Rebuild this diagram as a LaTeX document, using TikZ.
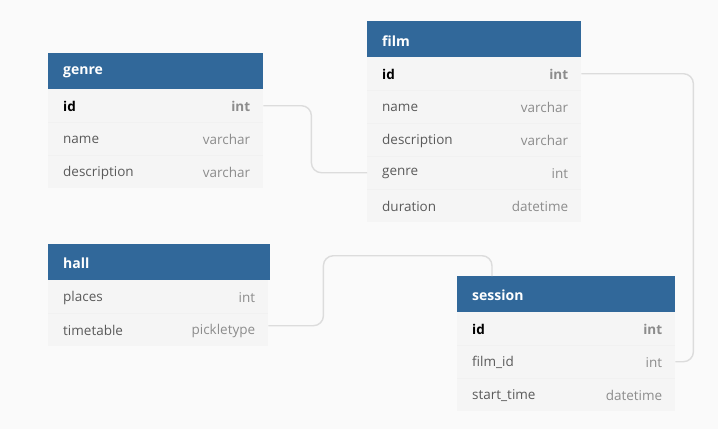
\documentclass[tikz,border=0pt]{standalone}
\usepackage{fontspec}
\setmainfont{Open Sans}
\begin{document}
\begin{tikzpicture}[x=1pt,y=-1pt,
  hdr/.style={fill=hdrblue, draw=none, anchor=north west, minimum height=36pt, inner sep=0pt},
  rowbox/.style={fill=rowgray, draw=none, anchor=north west, minimum height=33pt, inner sep=0pt},
  htext/.style={anchor=west, yshift=-1.5pt, text=white, font=\fontsize{14}{16}\selectfont\bfseries, inner sep=0pt},
  fname/.style={anchor=west, yshift=-1pt, text=namegray, font=\fontsize{13.5}{16}\selectfont, inner sep=0pt},
  fkey/.style={anchor=west, yshift=-1pt, text=black, font=\fontsize{13.5}{16}\selectfont\bfseries, inner sep=0pt},
  ftype/.style={anchor=east, yshift=-1pt, text=typegray, font=\fontsize{13.5}{16}\selectfont, inner sep=0pt},
  fkeytype/.style={anchor=east, yshift=-1pt, text=typegray, font=\fontsize{13.5}{16}\selectfont\bfseries, inner sep=0pt},
  sep/.style={draw=sepgray, line width=0.6pt},
  conn/.style={draw=conngray, line width=1.4pt, rounded corners=10pt}]
\definecolor{hdrblue}{HTML}{31689A}
\definecolor{rowgray}{HTML}{F5F5F5}
\definecolor{bggray}{HTML}{FAFAFA}
\definecolor{namegray}{HTML}{5A5A5A}
\definecolor{typegray}{HTML}{8C8C8C}
\definecolor{sepgray}{HTML}{F1F1F1}
\definecolor{conngray}{HTML}{DCDCDC}
\useasboundingbox (0,0) rectangle (718,429);
\fill[bggray] (0,0) rectangle (718,429);

% ---------- genre ----------
\node[hdr, minimum width=215pt] (g-head) at (48,53) {};
\node[htext] at ([xshift=15pt]g-head.west) {genre};
\node[rowbox, minimum width=215pt] (g-id) at (48,89) {};
\node[rowbox, minimum width=215pt] (g-name) at (48,122) {};
\node[rowbox, minimum width=215pt] (g-desc) at (48,155) {};
\draw[sep] (g-id.south west) -- (g-id.south east);
\draw[sep] (g-name.south west) -- (g-name.south east);
\node[fkey] at ([xshift=15pt]g-id.west) {id};
\node[fkeytype] at ([xshift=-13pt]g-id.east) {int};
\node[fname] at ([xshift=15pt]g-name.west) {name};
\node[ftype] at ([xshift=-13pt]g-name.east) {varchar};
\node[fname] at ([xshift=15pt]g-desc.west) {description};
\node[ftype] at ([xshift=-13pt]g-desc.east) {varchar};

% ---------- film ----------
\node[hdr, minimum width=214pt] (f-head) at (367,21) {};
\node[htext] at ([xshift=15pt]f-head.west) {film};
\node[rowbox, minimum width=214pt] (f-id) at (367,57) {};
\node[rowbox, minimum width=214pt] (f-name) at (367,90) {};
\node[rowbox, minimum width=214pt] (f-desc) at (367,123) {};
\node[rowbox, minimum width=214pt] (f-genre) at (367,156) {};
\node[rowbox, minimum width=214pt] (f-dur) at (367,189) {};
\draw[sep] (f-id.south west) -- (f-id.south east);
\draw[sep] (f-name.south west) -- (f-name.south east);
\draw[sep] (f-desc.south west) -- (f-desc.south east);
\draw[sep] (f-genre.south west) -- (f-genre.south east);
\node[fkey] at ([xshift=15pt]f-id.west) {id};
\node[fkeytype] at ([xshift=-13pt]f-id.east) {int};
\node[fname] at ([xshift=15pt]f-name.west) {name};
\node[ftype] at ([xshift=-13pt]f-name.east) {varchar};
\node[fname] at ([xshift=15pt]f-desc.west) {description};
\node[ftype] at ([xshift=-13pt]f-desc.east) {varchar};
\node[fname] at ([xshift=15pt]f-genre.west) {genre};
\node[ftype] at ([xshift=-13pt]f-genre.east) {int};
\node[fname] at ([xshift=15pt]f-dur.west) {duration};
\node[ftype] at ([xshift=-13pt]f-dur.east) {datetime};

% ---------- hall ----------
\node[hdr, minimum width=222pt] (h-head) at (48,244) {};
\node[htext] at ([xshift=15pt]h-head.west) {hall};
\node[rowbox, minimum width=220pt] (h-places) at (48,280) {};
\node[rowbox, minimum width=220pt] (h-tt) at (48,313) {};
\draw[sep] (h-places.south west) -- (h-places.south east);
\node[fname] at ([xshift=15pt]h-places.west) {places};
\node[ftype] at ([xshift=-13pt]h-places.east) {int};
\node[fname] at ([xshift=15pt]h-tt.west) {timetable};
\node[ftype] at ([xshift=-13pt]h-tt.east) {pickletype};

% ---------- session ----------
\node[hdr, minimum width=218pt] (s-head) at (457,276) {};
\node[htext] at ([xshift=15pt]s-head.west) {session};
\node[rowbox, minimum width=218pt] (s-id) at (457,312) {};
\node[rowbox, minimum width=218pt] (s-film) at (457,345) {};
\node[rowbox, minimum width=218pt] (s-start) at (457,378) {};
\draw[sep] (s-id.south west) -- (s-id.south east);
\draw[sep] (s-film.south west) -- (s-film.south east);
\node[fkey] at ([xshift=15pt]s-id.west) {id};
\node[fkeytype] at ([xshift=-13pt]s-id.east) {int};
\node[fname] at ([xshift=15pt]s-film.west) {film\_id};
\node[ftype] at ([xshift=-13pt]s-film.east) {int};
\node[fname] at ([xshift=15pt]s-start.west) {start\_time};
\node[ftype] at ([xshift=-13pt]s-start.east) {datetime};

% ---------- connectors ----------
\draw[conn] (g-id.east) -- ++(48,0) |- (f-genre.west);
\draw[conn] (f-id.east) -- ++(112,0) |- (s-film.east);
\draw[conn] ([yshift=4pt]h-tt.east) -- ++(55,0) -- ++(0,-70) -| ([xshift=35pt]s-head.north west);
\end{tikzpicture}
\end{document}
